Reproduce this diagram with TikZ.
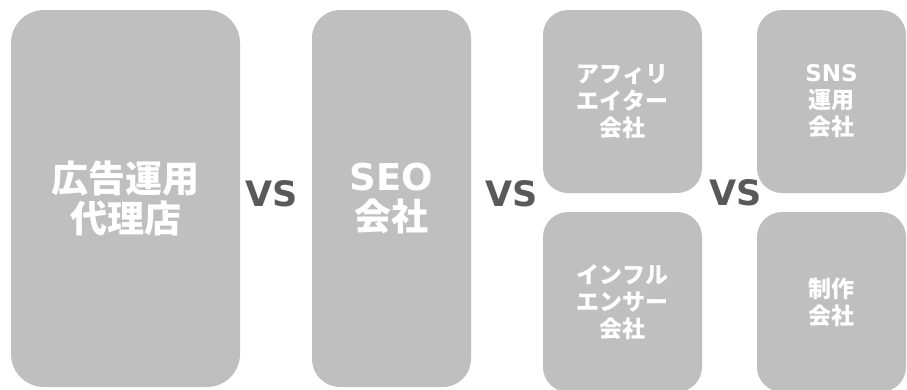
\documentclass[tikz,border=0pt]{standalone}
\usepackage{fontspec}
\setmainfont{DejaVu Sans}
\newfontfamily\jp{Noto Sans CJK JP}
\definecolor{boxgray}{HTML}{BFBFBF}
\definecolor{vsgray}{HTML}{595959}
\tikzset{
  card/.style={rectangle, fill=boxgray, draw=none, text=white, align=center, font=\bfseries},
  bigcard/.style={card, minimum width=159pt, minimum height=377pt, rounded corners=28pt,
    font=\fontsize{37}{40}\selectfont\bfseries},
  smallcard/.style={card, minimum width=159pt, minimum height=183pt, rounded corners=25pt,
    font=\fontsize{23}{27}\selectfont\bfseries},
  vslabel/.style={text=vsgray, font=\fontsize{35}{40}\selectfont\bfseries, inner sep=0pt}
}
\begin{document}
\begin{tikzpicture}[x=1pt, y=-1pt]
\useasboundingbox (0,0) rectangle (907,389);
\clip (0,0) rectangle (907,389);
\node[bigcard, minimum width=229pt, rounded corners=33pt] (ad) at (125.5,198.5) {\jp 広告運用\\\jp 代理店};
\node[bigcard] (seo) at (391.5,198.5) {SEO\\\jp 会社};
\node[smallcard] (aff) at (622.5,101.5) {\jp アフィリ\\\jp エイター\\\jp 会社};
\node[smallcard, minimum height=180pt] (inf) at (622.5,302) {\jp インフル\\\jp エンサー\\\jp 会社};
\node[smallcard, minimum width=149pt] (sns) at (831.5,101.5) {SNS\\\jp 運用\\\jp 会社};
\node[smallcard, minimum width=149pt, minimum height=180pt] (prod) at (831.5,302) {\jp 制作\\\jp 会社};
\node[vslabel] (vs1) at (272,194) {VS};
\node[vslabel] (vs2) at (512,194) {VS};
\node[vslabel] (vs3) at (736,193) {VS};
\end{tikzpicture}
\end{document}
